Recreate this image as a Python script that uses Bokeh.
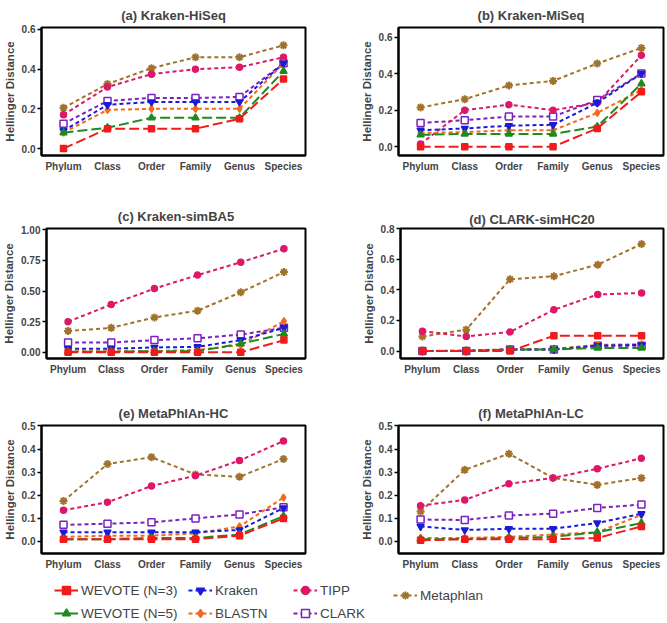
from bokeh.plotting import figure
from bokeh.layouts import column, row
from bokeh.models import Range1d, FixedTicker, NumeralTickFormatter, Legend, LegendItem
from bokeh.embed import file_html
from bokeh.resources import INLINE

levels = ["Phylum", "Class", "Order", "Family", "Genus", "Species"]
methods = ["WEVOTE (N=3)", "WEVOTE (N=5)", "Kraken", "BLASTN", "TIPP", "CLARK", "Metaphlan"]

hiseq = {
    "WEVOTE (N=3)": [0.0, 0.10, 0.10, 0.10, 0.15, 0.35],
    "WEVOTE (N=5)": [0.08, 0.105, 0.155, 0.155, 0.155, 0.39],
    "Kraken": [0.09, 0.22, 0.235, 0.235, 0.235, 0.43],
    "BLASTN": [0.08, 0.195, 0.20, 0.20, 0.20, 0.43],
    "TIPP": [0.17, 0.31, 0.375, 0.40, 0.41, 0.46],
    "CLARK": [0.125, 0.24, 0.255, 0.255, 0.26, 0.43],
    "Metaphlan": [0.205, 0.325, 0.405, 0.46, 0.46, 0.52],
}
miseq = {
    "WEVOTE (N=3)": [0.0, 0.0, 0.0, 0.0, 0.10, 0.30],
    "WEVOTE (N=5)": [0.065, 0.07, 0.07, 0.07, 0.11, 0.345],
    "Kraken": [0.09, 0.10, 0.115, 0.12, 0.24, 0.40],
    "BLASTN": [0.075, 0.08, 0.09, 0.09, 0.185, 0.31],
    "TIPP": [0.015, 0.20, 0.23, 0.20, 0.24, 0.50],
    "CLARK": [0.13, 0.145, 0.165, 0.165, 0.255, 0.40],
    "Metaphlan": [0.215, 0.26, 0.335, 0.36, 0.455, 0.54],
}
simba5 = {
    "WEVOTE (N=3)": [0.0, 0.0, 0.0, 0.0, 0.0, 0.10],
    "WEVOTE (N=5)": [0.005, 0.005, 0.01, 0.01, 0.07, 0.15],
    "Kraken": [0.03, 0.03, 0.04, 0.045, 0.10, 0.20],
    "BLASTN": [0.01, 0.01, 0.01, 0.02, 0.06, 0.255],
    "TIPP": [0.25, 0.39, 0.52, 0.63, 0.735, 0.845],
    "CLARK": [0.08, 0.08, 0.10, 0.115, 0.145, 0.20],
    "Metaphlan": [0.175, 0.20, 0.285, 0.34, 0.49, 0.655],
}
simhc20 = {
    "WEVOTE (N=3)": [0.0, 0.0, 0.0, 0.10, 0.10, 0.10],
    "WEVOTE (N=5)": [0.0, 0.0, 0.01, 0.01, 0.02, 0.02],
    "Kraken": [0.0, 0.0, 0.01, 0.01, 0.035, 0.04],
    "BLASTN": [0.0, 0.005, 0.01, 0.015, 0.04, 0.045],
    "TIPP": [0.13, 0.095, 0.125, 0.27, 0.37, 0.38],
    "CLARK": [0.0, 0.0, 0.01, 0.01, 0.035, 0.035],
    "Metaphlan": [0.095, 0.14, 0.47, 0.49, 0.565, 0.70],
}
metaphlan_hc = {
    "WEVOTE (N=3)": [0.01, 0.01, 0.01, 0.01, 0.025, 0.10],
    "WEVOTE (N=5)": [0.01, 0.01, 0.015, 0.015, 0.03, 0.11],
    "Kraken": [0.04, 0.04, 0.04, 0.04, 0.05, 0.145],
    "BLASTN": [0.02, 0.025, 0.025, 0.035, 0.065, 0.19],
    "TIPP": [0.135, 0.17, 0.24, 0.285, 0.35, 0.435],
    "CLARK": [0.072, 0.077, 0.083, 0.10, 0.117, 0.148],
    "Metaphlan": [0.175, 0.335, 0.365, 0.29, 0.28, 0.357],
}
metaphlan_lc = {
    "WEVOTE (N=3)": [0.005, 0.01, 0.01, 0.01, 0.015, 0.065],
    "WEVOTE (N=5)": [0.01, 0.01, 0.015, 0.02, 0.04, 0.08],
    "Kraken": [0.065, 0.05, 0.055, 0.055, 0.08, 0.12],
    "BLASTN": [0.015, 0.015, 0.02, 0.03, 0.04, 0.115],
    "TIPP": [0.155, 0.18, 0.25, 0.275, 0.315, 0.36],
    "CLARK": [0.095, 0.093, 0.113, 0.12, 0.145, 0.16],
    "Metaphlan": [0.13, 0.31, 0.38, 0.275, 0.245, 0.275],
}

STYLE = {
    "WEVOTE (N=3)": dict(color="#F21B1B", marker="square", dash="10 4", size=6, fill="#F21B1B"),
    "WEVOTE (N=5)": dict(color="#1E8B1E", marker="triangle", dash="10 4", size=7, fill="#1E8B1E"),
    "Kraken": dict(color="#1B1BD8", marker="inverted_triangle", dash="4 3", size=7, fill="#1B1BD8"),
    "BLASTN": dict(color="#F26B1D", marker="diamond", dash="4 3", size=7, fill="#F26B1D"),
    "TIPP": dict(color="#DE1768", marker="circle", dash="4 3", size=6, fill="#DE1768"),
    "CLARK": dict(color="#7B22BF", marker="square", dash="4 3", size=7, fill="white"),
    "Metaphlan": dict(color="#A1722A", marker="asterisk", dash="4 3", size=8, fill="#A1722A"),
}

FONT = "Liberation Sans"


def draw_series(p, data):
    rends = {}
    for m in reversed(methods):
        st = STYLE[m]
        lr = p.line(levels, data[m], line_color=st["color"], line_width=2, line_dash=st["dash"])
        sr = p.scatter(levels, data[m], marker=st["marker"], size=st["size"], fill_color=st["fill"],
                       line_color=st["color"], line_width=1.5 if m != "Metaphlan" else 2)
        rends[m] = (lr, sr)
    return rends


def panel(title, data, lo, hi, ticks, fmt, width, height, mbl, mbr, mbt, mbb, standoff):
    p = figure(x_range=levels, y_range=Range1d(lo, hi), width=width, height=height,
               output_backend="svg", toolbar_location=None,
               min_border_left=mbl, min_border_right=mbr, min_border_top=mbt, min_border_bottom=mbb)
    p.title.text = title
    p.title.align = "center"
    p.title.text_font = FONT
    p.title.text_font_size = "13px"
    p.title.text_font_style = "bold"
    p.title.standoff = standoff
    p.xgrid.visible = False
    p.ygrid.visible = False
    p.outline_line_color = "black"
    p.outline_line_width = 2
    p.outline_line_alpha = 1

    ya = p.yaxis[0]
    ya.ticker = FixedTicker(ticks=ticks)
    ya.formatter = NumeralTickFormatter(format=fmt)
    ya.axis_label = "Hellinger Distance"
    ya.axis_label_text_font = FONT
    ya.axis_label_text_font_size = "11.5px"
    ya.axis_label_text_font_style = "bold"
    ya.axis_label_standoff = 3
    ya.major_label_text_font = FONT
    ya.major_label_text_font_size = "10px"
    ya.major_label_text_font_style = "bold"
    ya.major_label_standoff = 2
    ya.major_tick_out = 4
    ya.major_tick_in = 0
    ya.major_tick_line_width = 1.5
    ya.minor_tick_line_color = None
    ya.axis_line_width = 2

    xa = p.xaxis[0]
    xa.major_label_text_font = FONT
    xa.major_label_text_font_size = "10px"
    xa.major_label_text_font_style = "bold"
    xa.major_label_standoff = 5
    xa.major_tick_out = 0
    xa.major_tick_in = 0
    xa.axis_line_width = 2

    draw_series(p, data)
    return p


LW, RW = 333, 334
pa = panel("(a) Kraken-HiSeq", hiseq, -0.035, 0.61, [0, 0.2, 0.4, 0.6], "0.0", LW, 195, 38, 28, 27, 40, 10)
pb = panel("(b) Kraken-MiSeq", miseq, -0.048, 0.652, [0, 0.2, 0.4, 0.6], "0.0", RW, 195, 65, 4, 27, 37, 10)
pc = panel("(c) Kraken-simBA5", simba5, -0.05, 1.01, [0, 0.25, 0.5, 0.75, 1.0], "0.00", LW, 203, 42, 28, 33, 39, 10)
pd = panel("(d) CLARK-simHC20", simhc20, -0.049, 0.802, [0, 0.2, 0.4, 0.6, 0.8], "0.0", RW, 203, 67, 4, 29, 40, 3)
pe = panel("(e) MetaPhlAn-HC", metaphlan_hc, -0.052, 0.502, [0, 0.1, 0.2, 0.3, 0.4, 0.5], "0.0", LW, 177, 38, 28, 26, 22, 9)
pf = panel("(f) MetaPhlAn-LC", metaphlan_lc, -0.052, 0.502, [0, 0.1, 0.2, 0.3, 0.4, 0.5], "0.0", RW, 177, 65, 4, 26, 22, 10)

# legend strip (series drawn out of view; only the legend is visible)
lg = figure(width=LW + RW, height=48, output_backend="svg", toolbar_location=None,
            x_range=levels, y_range=Range1d(5, 6),
            min_border_left=0, min_border_right=0, min_border_top=0, min_border_bottom=0)
lg.axis.visible = False
lg.xgrid.visible = False
lg.ygrid.visible = False
lg.outline_line_color = None
rends = draw_series(lg, hiseq)

groups = [(["WEVOTE (N=3)", "WEVOTE (N=5)"], (54, 0)),
          (["Kraken", "BLASTN"], (188, 0)),
          (["TIPP", "CLARK"], (293, 0)),
          (["Metaphlan"], (393, 18))]
for names, loc in groups:
    items = [LegendItem(label=n, renderers=list(rends[n])) for n in names]
    leg = Legend(items=items, location=loc, orientation="vertical",
                 label_text_font=FONT, label_text_font_size="13.5px", label_standoff=3,
                 glyph_width=24, glyph_height=20, label_height=20, spacing=3,
                 padding=0, margin=0, border_line_alpha=0, background_fill_alpha=0)
    lg.add_layout(leg)

layout = column(row(pa, pb), row(pc, pd), row(pe, pf), lg)
open("out.html", "w").write(file_html(layout, INLINE))
